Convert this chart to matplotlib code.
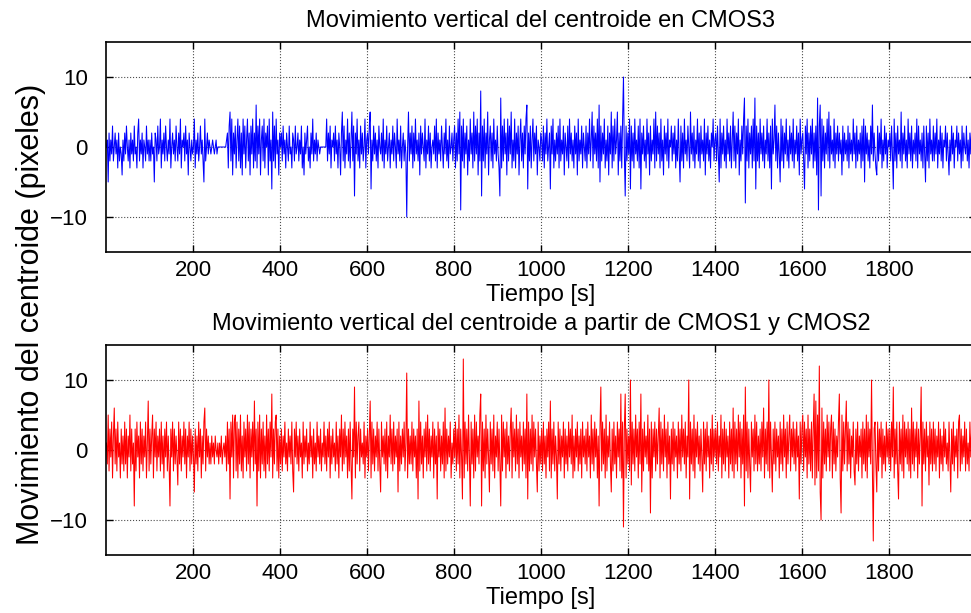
import numpy as np
import matplotlib
matplotlib.use("Agg")
import matplotlib.pyplot as plt

plt.rcParams['font.family'] = ['Liberation Sans', 'DejaVu Sans']

# valores enteros (pixeles), un caracter por muestra: N = 0, O = +1, M = -1, ...
KEY = "ABCDEFGHIJKLMNOPQRSTUVWXYZa"
ZERO = KEY.index("N")

# CMOS3, movimiento vertical del centroide
cmos3_txt = (
    "NOIPLOMQLNPMOKPLNMJOLPMQNLOKPMOLQMNKPRLOMPKONLQMOL"
    "OLPMNIPOLQMNRKOMPLQNLOMRKNPMOLQNLPMRKONPLQMOJPNLOM"
    "NRKOMPLNQMOLIRLNPMONMNONMNOMNNNNNNNNNNOPKQSLRJPMQK"
    "ORLQKPJRMQKORLPJQMRKPLTKQMRJOQLRKPNQJRLOHSLQKRMOJP"
    "NPLQMOKPNLQMNKPOLQMNPLOMQKNJPMOQLNKPMRLOMPLONMNNNN"
    "NNNRLPMQKONPLQMOKPNJPSLQKOMRLPKOSLQGPMRLOKQMPLNRKO"
    "PMQSHOLQMPLOKQNMPLRKOMQLNPKOMQLPNKRMOLQKNPLOMDNSLP"
    "MQKPLRMOLPJQMPNLRKOMQLPKNOMQLRKPMOLQNKPMRLOKQMNPLO"
    "QKPLRMSEQLRKPMQJOLRMPKSLQMRJPLVGQLRKPMSJOQLPKRMOLQ"
    "MKGUKQLRMPJRLQMSKOLRKPMQJORLPKQMRTHPLQKORLPMQJONLP"
    "OLQKPMRLNPHQMRKOLPMQKRLOMQJPNLQKRMPLOKQMPJRLOMQKPN"
    "LQKPMRLOSKQMPLRKTIQLPMRKOLQJPMSKQLRMOSJPLQKRXMGQLP"
    "MRHQLPKRMOLQKRHPMQLOKRMPJQLOMRKSLQMPKRLOJQMPLRKONQ"
    "LPMQKOLRMIQLPKRMOLQNKSMPLQKOMRLPKQMOLRJPMQLOKPNRLO"
    "PLQMIRKPMQLOKRMPLQKOSLQKPMRJOLQMRUFQLRKPMQKRLUHQLP"
    "KRMPLQKOMRLPKQHRMOTLQKPMIRLQKPMRLOKQMPLRKOMQLPJRMO"
    "PLHQMRKPLQMRKPLQJUEQTGRLQKPMRLSKQMOLRKPMQLPMOJQLPM"
    "OLQKPMOLRMPKQLOMPKQLRIQMPLOKQMTLPMKJQLPMRKOLQMPKON"
    "PLQMHRLPKQMOLSKPMQLOKRMPLQKOMPLRKQMOLPKQMIQLPKRMOL"
    "QLPMRKOMQLPKONQLPMJOLQMPKONQLPMOKQLPNMQLOKPMQLONPL"
)

# CMOS1 y CMOS2
cmos12_txt = (
    "OLSKQMRJPTLQKRMOJQLPKRLQJPMSKQLOFQKRMPJRLQKPMRJOUK"
    "QLPSJQMRKPMQKRLPJQMRKPLFQMRKQLPMIRLQKPMRLQJPMRKQLP"
    "MHQLPKRMQJPLRTKQMPLOLPMOLPNMOLOMPLNOMPKRLQGRMSJRSK"
    "RJQLSKPJRMQKSLRJQMRKULQFRKSJQLRKPJSLQKRMVJQLRSKQJP"
    "LQKPMRLOKQMPLRKHQMRLPKQMOJRLPMQKOLRMPJQLOKRMPLQKOM"
    "RLPKQMRJPLQMOKRLPJQMSKQLRMPJQKRLGQMWJRLPRKQMOLRJPM"
    "QKPUJRLQKPMRKQLHRMPLQKRJPMSLQKRLPMQHRKPLQMRKOYJQLP"
    "LRKQMPJQGUKRLPJQMRKSLQKPMRJQLPGRMQKPLRJTKQLPMRJOLQ"
    "MRKQLSJQMGaJRLQKSMFRLQJSKRMPLSVFRKQJSLQMHRLQKSJPMR"
    "KQLFSKRMQJRLPKQTJRMQKSLQJRMPKRLQJVGRKQLSKRMQLHRKPL"
    "QKRLPJQMRKUJQLRKPMGRLQKPMRJQLPKRMQLSJPKQMRKPLQJRMP"
    "LQKRMPJSLQKRMQJPFQWKRLQJSKPMRLHQKRLPJRMQKVJRCQVJQL"
    "PKXIRLQKSMQJRLVHQKRMPLSKQERJQMRKQLPTJRLQKSMQJRLPGQ"
    "LRKQMPJRLQKSMQLRJPMXGRLQKSJQMRLPKQMHRLQKRMPJQLSKQM"
    "QLRKPMSJQLRKQMPJRLQKTJRLQKSMRJQLSFWKRJQLHRMQKSLRKP"
    "LQKRMTJQLRKXJRMHQLRKQMPJRLQKSMQJRLPSKQMRLQKRMPGRLQ"
    "SKRMQJSLQKRJQVIUJSKZHDTJRLQKSMRKQSJRLQKPMRVJESKRLQ"
    "UKRLQJPMRKIQLRKPMQJRLQKSJRMQLXKAQRLHRKQMRJQLPKRMQL"
    "QKRMWJQLRKGRLQKSJRMQLRKQJTLRKQMRJQLPWFRLQKRMPIRLQK"
    "RLQKPMRJQLPKRMQLOKRMHQLRKPMQJRSKQLPMRKQLOKRMQLPKRM"
)

cmos3 = np.array([KEY.index(c) - ZERO for c in cmos3_txt])
cmos12 = np.array([KEY.index(c) - ZERO for c in cmos12_txt])
tiempo3 = np.linspace(1, 2000, len(cmos3))
tiempo12 = np.linspace(1, 2000, len(cmos12))

titulos = ["Movimiento vertical del centroide en CMOS3",
           "Movimiento vertical del centroide a partir de CMOS1 y CMOS2"]
xticks = [200, 400, 600, 800, 1000, 1200, 1400, 1600, 1800]
yticks = [-10, 0, 10]

fig = plt.figure(figsize=(9.71, 6.13), dpi=100)
ax1 = fig.add_axes([106 / 971, 1 - 252 / 613, 870 / 971, 210 / 613])
ax2 = fig.add_axes([106 / 971, 1 - 555 / 613, 870 / 971, 210 / 613])

series = [(ax1, tiempo3, cmos3, '#0000ff', titulos[0]),
          (ax2, tiempo12, cmos12, '#ff0000', titulos[1])]

for ax, t, y, col, tit in series:
    ax.plot(t, y, color=col, lw=0.75)
    ax.set_xlim(0, 2000)
    ax.set_ylim(-15, 15)
    ax.set_xticks(xticks)
    ax.set_yticks(yticks)
    ax.grid(True, linestyle=':', color='0.3', lw=0.8)
    ax.tick_params(direction='in', top=True, right=True, length=5,
                   labelsize=16, width=1)
    ax.tick_params(axis='y', pad=13)
    ax.tick_params(axis='x', pad=6)
    for s in ax.spines.values():
        s.set_linewidth(1.2)
    ax.set_title(tit, fontsize=17, pad=11)
    ax.set_xlabel("Tiempo [s]", fontsize=17, labelpad=2)

fig.text(0.032, 0.487, "Movimiento del centroide (pixeles)", rotation=90,
         ha='center', va='center', fontsize=22,
         family=['Liberation Sans Narrow', 'Liberation Sans'])

fig.savefig("out.png", dpi=100)
